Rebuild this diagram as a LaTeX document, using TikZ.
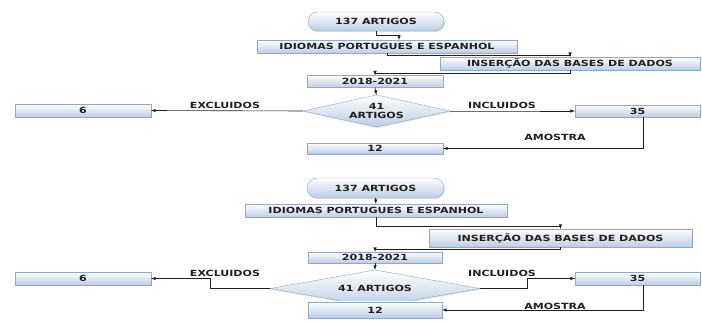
\documentclass[tikz,border=0pt]{standalone}
\usepackage{fontspec}
\usepackage{tkz-graph}
\usetikzlibrary{arrows}
\usetikzlibrary{shapes, shadows}

\newfontfamily\chartfont[FakeStretch=1.3]{DejaVu Sans}
\definecolor{boxbottom}{HTML}{BACDE6}
\definecolor{boxline}{HTML}{8FA9CB}
\definecolor{inkline}{HTML}{202020}

\begin{document}
\begin{tikzpicture}[x = 1pt, y = -1pt, font=\chartfont\bfseries\fontsize{8.5}{10}\selectfont]
	\tikzstyle{VertexStyle} = []
	\tikzstyle{boxStyle}=[shape = rectangle, inner sep = 0pt, draw = boxline, top color = white, bottom color = boxbottom, text = inkline, drop shadow = {shadow xshift = 1pt, shadow yshift = -1pt, opacity = 0.25}]
	\tikzstyle{ovalStyle}=[boxStyle, shape = rounded rectangle]
	\tikzstyle{choiceStyle}=[boxStyle, shape = diamond, align = center, font = \chartfont\bfseries\fontsize{8.5}{9.5}\selectfont]
	\tikzstyle{flowStyle}=[draw = inkline, line width = 0.6pt, ->, >=latex]
	\tikzstyle{labelStyle}=[inner sep = 0pt, text = inkline]
	\useasboundingbox (0,0) rectangle (702,323);
	% first chart
	\Vertex[style = {ovalStyle, minimum width = 136pt, minimum height = 19pt}, x = 376, y = 21.5, L = {137 ARTIGOS}]{art1}
	\Vertex[style = {boxStyle, minimum width = 260pt, minimum height = 13pt}, x = 387, y = 46.5, L = {IDIOMAS PORTUGUES E ESPANHOL}]{lang1}
	\Vertex[style = {boxStyle, minimum width = 260pt, minimum height = 13pt}, x = 570, y = 63.5, L = {INSERÇÃO DAS BASES DE DADOS}]{base1}
	\Vertex[style = {boxStyle, minimum width = 136pt, minimum height = 12pt}, x = 375, y = 81.5, L = {2018-2021}]{year1}
	\Vertex[style = {choiceStyle, minimum width = 147pt, minimum height = 32pt, aspect = 4.6}, x = 376.5, y = 111, L = {41\\ARTIGOS}]{sel1}
	\Vertex[style = {boxStyle, minimum width = 136pt, minimum height = 13pt}, x = 83, y = 110.5, L = {6}]{out1}
	\Vertex[style = {boxStyle, minimum width = 125pt, minimum height = 12pt}, x = 637.5, y = 111, L = {35}]{in1}
	\Vertex[style = {boxStyle, minimum width = 136pt, minimum height = 11pt}, x = 375, y = 148.5, L = {12}]{sample1}
	\draw[flowStyle] (art1.south) -- ++(0,4) -| ([xshift = 12pt]lang1.north);
	\draw[flowStyle] (lang1.south) -- ++(0,2) -| (base1.north);
	\draw[flowStyle] (base1.south) -- ++(0,3) -| (year1.north);
	\draw[flowStyle] (year1.south) -- (sel1.north);
	\draw[flowStyle] (sel1.west) -- (out1.east);
	\draw[flowStyle] (sel1.east) -- ++(60,0) |- (in1.west);
	\draw[flowStyle] ([xshift = 5.5pt]in1.south) |- (sample1.east);
	\node[labelStyle] (exc1) at (225,105) {EXCLUIDOS};
	\node[labelStyle] (inc1) at (502,105) {INCLUIDOS};
	\node[labelStyle] (amo1) at (555,137) {AMOSTRA};
	% second chart
	\Vertex[style = {ovalStyle, minimum width = 137pt, minimum height = 20pt}, x = 375.5, y = 188, L = {137 ARTIGOS}]{art2}
	\Vertex[style = {boxStyle, minimum width = 262pt, minimum height = 13pt}, x = 376, y = 210.5, L = {IDIOMAS PORTUGUES E ESPANHOL}]{lang2}
	\Vertex[style = {boxStyle, minimum width = 263pt, minimum height = 18pt}, x = 560.5, y = 238, L = {INSERÇÃO DAS BASES DE DADOS}]{base2}
	\Vertex[style = {boxStyle, minimum width = 134pt, minimum height = 11pt}, x = 375, y = 257.5, L = {2018-2021}]{year2}
	\Vertex[style = {choiceStyle, minimum width = 210pt, minimum height = 37pt, aspect = 5.7}, x = 375, y = 288.5, L = {41 ARTIGOS}]{sel2}
	\Vertex[style = {boxStyle, minimum width = 136pt, minimum height = 13pt}, x = 83, y = 278.5, L = {6}]{out2}
	\Vertex[style = {boxStyle, minimum width = 125pt, minimum height = 13pt}, x = 637.5, y = 278.5, L = {35}]{in2}
	\Vertex[style = {boxStyle, minimum width = 134pt, minimum height = 16pt}, x = 375, y = 310, L = {12}]{sample2}
	\draw[flowStyle] (art2.south) -- (lang2.north);
	\draw[flowStyle] (lang2.south) -- ++(0,9) -| (base2.north);
	\draw[flowStyle] (base2.south) -- ++(0,2) -| (year2.north);
	\draw[flowStyle] (year2.south) -- (sel2.north);
	\draw[flowStyle] (sel2.west) -- ++(-60,0) |- (out2.east);
	\draw[flowStyle] (sel2.east) -- ++(47,0) |- (in2.west);
	\draw[flowStyle] ([xshift = 5.5pt]in2.south) |- (sample2.east);
	\node[labelStyle] (exc2) at (225,273) {EXCLUIDOS};
	\node[labelStyle] (inc2) at (502,273) {INCLUIDOS};
	\node[labelStyle] (amo2) at (555,306) {AMOSTRA};
\end{tikzpicture}
\end{document}
